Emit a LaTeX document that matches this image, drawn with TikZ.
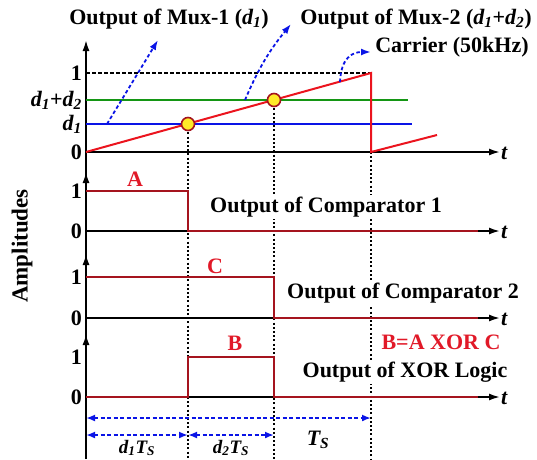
\documentclass[tikz,border=0pt]{standalone}
\usepackage{fontspec}
\setmainfont{Liberation Serif}
\usetikzlibrary{arrows.meta}
\definecolor{sigred}{RGB}{165,20,30}
\definecolor{txtred}{RGB}{225,25,40}
\definecolor{rampred}{RGB}{235,20,30}
\definecolor{bluel}{RGB}{10,20,230}
\definecolor{greenl}{RGB}{20,150,20}
\definecolor{circ}{RGB}{255,235,40}
\begin{document}
\begin{tikzpicture}[x=1pt,y=-1pt,
  lbl/.style={font=\fontsize{22}{26}\selectfont\bfseries, inner sep=1pt},
  ilbl/.style={font=\fontsize{22}{26}\selectfont\bfseries\itshape, inner sep=1pt},
  rlbl/.style={lbl, text=txtred},
  tick/.style={lbl, anchor=east},
  axis/.style={line width=1.8pt, -{Latex[length=11pt,width=7pt]}},
  sig/.style={line width=2.4pt, sigred, line join=miter},
  vdot/.style={line width=1.8pt, dash pattern=on 2pt off 2.2pt},
  ptr/.style={line width=1.8pt, bluel, dash pattern=on 3.5pt off 2.5pt, -{Latex[length=10pt,width=7pt]}},
  dim/.style={line width=1.8pt, bluel, dash pattern=on 4pt off 2.5pt, {Latex[length=9pt,width=7pt]}-{Latex[length=9pt,width=7pt]}},
  dot/.style={circle, draw=sigred, line width=1.6pt, fill=circ, minimum size=13pt, inner sep=0pt},
  cut/.style={lbl, fill=white, inner sep=2pt}
]
\useasboundingbox (0,0) rectangle (537,459);

% key coordinates
\coordinate (o) at (86,152);
\coordinate (pk) at (371,73);
\coordinate (pkb) at (371,152);
\coordinate (rampend) at (437,135);
\coordinate (x1) at (188,124);
\coordinate (x2) at (274,100);

% main vertical axis
\draw[axis] (86,459) -- (86,40);
\draw[axis] (86,190) -- (86,172);
\draw[axis] (86,272) -- (86,254);
\draw[axis] (86,352) -- (86,334);

% vertical dotted guide lines
\draw[vdot] (x1) -- (188,459);
\draw[vdot] (x2) -- (274,459);
\draw[vdot] (pkb) -- (371,459);

% ---- top panel ----
\draw[axis] (o) -- (500,152);
\node[ilbl, anchor=west] (t1) at (500,153) {t};
\draw[line width=1.6pt, dash pattern=on 3.5pt off 2.5pt] (86,73) -- (pk);
\draw[line width=2pt, greenl] (86,100) -- (408,100);
\draw[line width=2pt, bluel] (86,124) -- (412,124);
\draw[line width=2pt, rampred] (o) -- (pk) -- (pkb) -- (rampend);
\node[dot] (c1) at (x1) {};
\node[dot] (c2) at (x2) {};

\node[tick] (y1) at (83,73) {1};
\node[tick] (y2) at (83,100) {\itshape d\textsubscript{1}\upshape+\itshape d\textsubscript{2}};
\node[tick] (y3) at (83,124) {\itshape d\textsubscript{1}};
\node[tick] (y0) at (83,152) {0};

\node[lbl] (m1) at (169,19) {Output of Mux-1 (\textit{d\textsubscript{1}})};
\node[lbl] (m2) at (416,19) {Output of Mux-2 (\textit{d\textsubscript{1}}+\textit{d\textsubscript{2}})};
\node[lbl] (car) at (452,47) {Carrier (50kHz)};

\coordinate (p1s) at (107,124);
\coordinate (p1e) at (158,40);
\coordinate (p2s) at (245,100);
\coordinate (p2e) at (291,24);
\coordinate (p3s) at (340,82);
\coordinate (p3e) at (371,52);
\draw[ptr] (p1s) -- (p1e);
\draw[ptr] (p2s) to[bend left=8] (p2e);
\draw[ptr] (p3s) .. controls (341,58) and (352,52) .. (p3e);

% ---- comparator 1 ----
\draw[axis] (86,231) -- (500,231);
\node[ilbl, anchor=west] (t2) at (500,232) {t};
\draw[sig] (86,191) -- (188,191) -- (188,231) -- (478,231);
\node[tick] (a1) at (83,191) {1};
\node[tick] (a0) at (83,231) {0};
\node[rlbl] (A) at (135,179) {A};
\node[cut] (oc1) at (326,207) {Output of Comparator 1};

% ---- comparator 2 ----
\draw[axis] (86,318) -- (500,318);
\node[ilbl, anchor=west] (t3) at (500,319) {t};
\draw[sig] (86,277) -- (274,277) -- (274,318) -- (478,318);
\node[tick] (b1) at (83,277) {1};
\node[tick] (b0) at (83,318) {0};
\node[rlbl] (C) at (215,266) {C};
\node[cut] (oc2) at (403,293) {Output of Comparator 2};

% ---- XOR ----
\draw[axis] (86,397) -- (500,397);
\node[ilbl, anchor=west] (t4) at (500,398) {t};
\draw[sig] (86,397) -- (188,397) -- (188,357) -- (274,357) -- (274,397) -- (478,397);
\node[tick] (c1l) at (83,357) {1};
\node[tick] (c0l) at (83,397) {0};
\node[rlbl] (B) at (235,343) {B};
\node[rlbl] (eq) at (441,342) {B=A XOR C};
\node[cut] (ox) at (405,372) {Output of XOR Logic};

% ---- time spans ----
\coordinate (s0) at (86,418);
\coordinate (s3) at (371,418);
\coordinate (r0) at (86,435);
\coordinate (r1) at (188,435);
\coordinate (r2) at (274,435);
\draw[dim] (s0) -- (s3);
\draw[dim] (r0) -- (r1);
\draw[dim] (r1) -- (r2);
\node[ilbl, font=\fontsize{19}{22}\selectfont\bfseries\itshape, anchor=base] (d1t) at (137,453) {d\textsubscript{1}T\textsubscript{S}};
\node[ilbl, font=\fontsize{19}{22}\selectfont\bfseries\itshape, anchor=base] (d2t) at (231,453) {d\textsubscript{2}T\textsubscript{S}};
\node[ilbl] (ts) at (318,440) {T\textsubscript{S}};

% y label
\node[lbl, font=\fontsize{23}{26}\selectfont\bfseries, rotate=90] (amp) at (22,246) {Amplitudes};
\end{tikzpicture}
\end{document}
